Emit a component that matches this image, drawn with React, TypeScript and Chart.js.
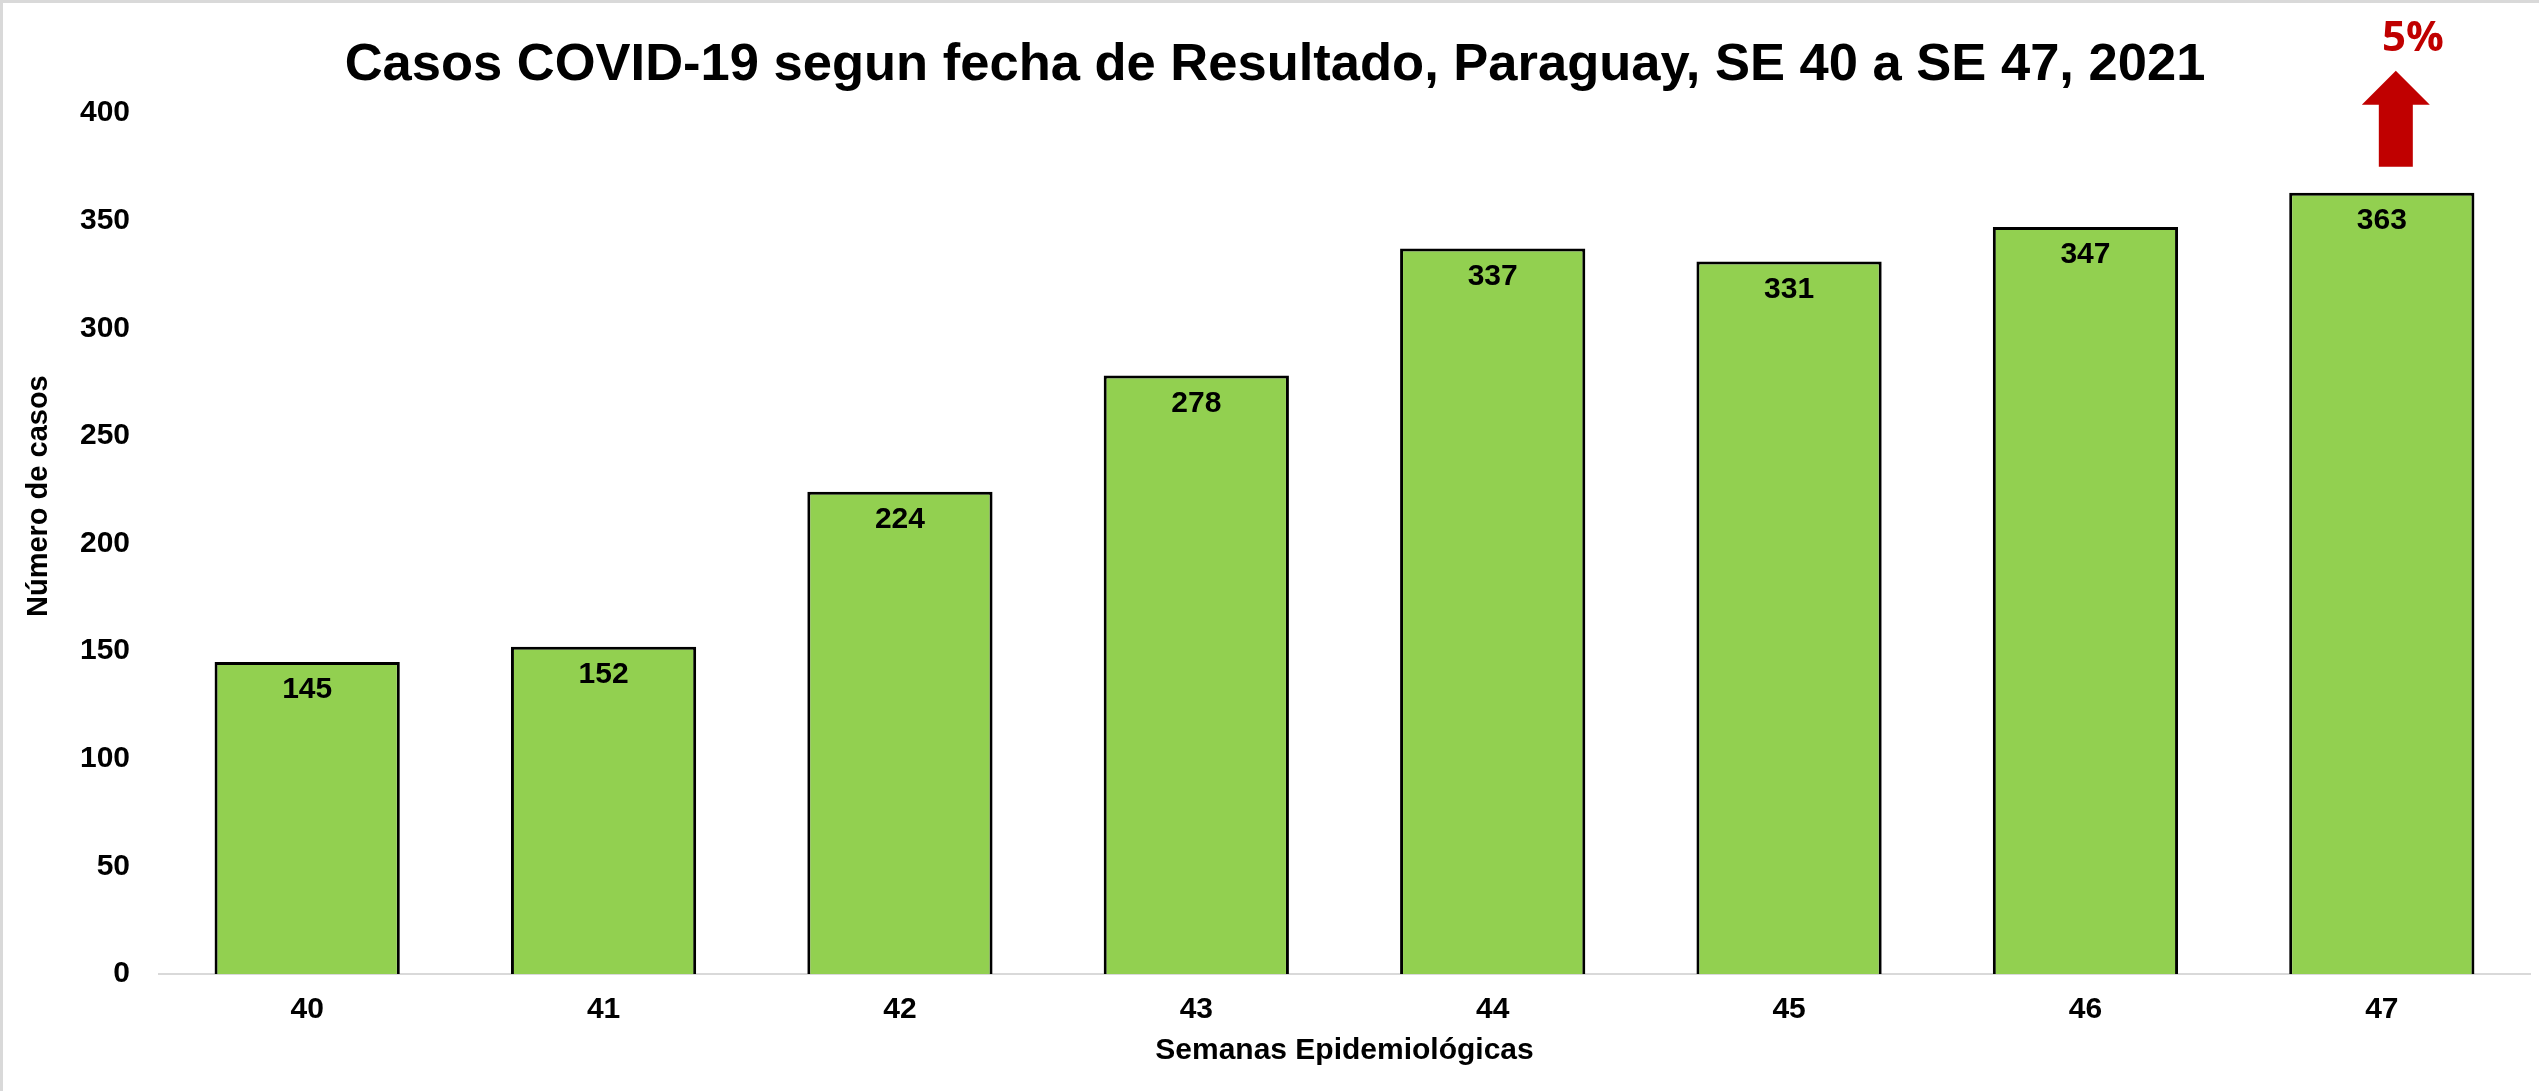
import React, { useEffect, useRef } from "react";
import { Chart, registerables } from "chart.js";

Chart.register(...registerables);

const CATEGORIES = ["40", "41", "42", "43", "44", "45", "46", "47"];
const CASES = [145, 152, 224, 278, 337, 331, 347, 363];
const Y_MIN = 0;
const Y_MAX = 400;
const Y_STEP = 50;
const TITLE = "Casos COVID-19 segun fecha de Resultado, Paraguay, SE 40 a SE 47, 2021";
const X_TITLE = "Semanas Epidemiológicas";
const Y_TITLE = "Número de casos";
const CHANGE_LABEL = "5%";

const W = 2539;
const H = 1091;
const FONT = "'Liberation Sans', Arial, sans-serif";
const BAR_GREEN = "#92D050";
const ARROW_RED = "#C00000";

const framePlugin = {
  id: "frame",
  beforeDraw(chart: any) {
    const ctx = chart.ctx;
    ctx.save();
    ctx.fillStyle = "#ffffff";
    ctx.fillRect(0, 0, chart.width, chart.height);
    ctx.fillStyle = "#d9d9d9";
    ctx.fillRect(0, 0, chart.width, 3);
    ctx.fillRect(0, 0, 3, chart.height);
    ctx.restore();
  },
};

const yTitlePlugin = {
  id: "yTitle",
  afterDraw(chart: any) {
    const ctx = chart.ctx;
    const area = chart.chartArea;
    ctx.save();
    ctx.translate(39, area.top + (area.bottom - area.top) * 0.445);
    ctx.rotate(-Math.PI / 2);
    ctx.font = `bold 29px ${FONT}`;
    ctx.fillStyle = "#000000";
    ctx.textAlign = "center";
    ctx.textBaseline = "middle";
    ctx.fillText(Y_TITLE, 0, 0);
    ctx.restore();
  },
};

const valueLabelPlugin = {
  id: "valueLabels",
  afterDatasetsDraw(chart: any) {
    const ctx = chart.ctx;
    const meta = chart.getDatasetMeta(0);
    ctx.save();
    ctx.font = `bold 30px ${FONT}`;
    ctx.fillStyle = "#000000";
    ctx.textAlign = "center";
    ctx.textBaseline = "middle";
    meta.data.forEach((bar: any, i: number) => {
      ctx.fillText(String(CASES[i]), bar.x, bar.y + 28);
    });
    ctx.restore();
  },
};

const arrowPlugin = {
  id: "changeArrow",
  afterDraw(chart: any) {
    const ctx = chart.ctx;
    const meta = chart.getDatasetMeta(0);
    const bar = meta.data[meta.data.length - 1];
    if (!bar) return;
    const bx = bar.x;
    const by = bar.y;
    const cx = bx + 14;
    ctx.save();
    ctx.fillStyle = ARROW_RED;
    ctx.beginPath();
    ctx.moveTo(cx, by - 122);
    ctx.lineTo(cx + 34, by - 88);
    ctx.lineTo(cx + 17, by - 88);
    ctx.lineTo(cx + 17, by - 26);
    ctx.lineTo(cx - 17, by - 26);
    ctx.lineTo(cx - 17, by - 88);
    ctx.lineTo(cx - 34, by - 88);
    ctx.closePath();
    ctx.fill();
    ctx.font = `bold 42px 'Open Sans', 'Noto Sans', sans-serif`;
    ctx.textAlign = "center";
    ctx.textBaseline = "middle";
    ctx.fillText(CHANGE_LABEL, bx + 31, by - 154);
    ctx.restore();
  },
};

export default function App() {
  const canvasRef = useRef<HTMLCanvasElement | null>(null);

  useEffect(() => {
    if (!canvasRef.current) return;
    const chart = new Chart(canvasRef.current, {
      type: "bar",
      data: {
        labels: CATEGORIES,
        datasets: [
          {
            data: CASES,
            backgroundColor: BAR_GREEN,
            borderColor: "#000000",
            borderWidth: 3,
            categoryPercentage: 1,
            barPercentage: 0.625,
          },
        ],
      },
      options: {
        responsive: false,
        animation: false,
        devicePixelRatio: 1,
        layout: { padding: { left: 20, right: 9, top: 0, bottom: 0 } },
        plugins: {
          legend: { display: false },
          tooltip: { enabled: false },
          title: {
            display: true,
            text: TITLE,
            color: "#000000",
            font: { family: FONT, size: 52.5, weight: "bold" },
            padding: { top: 34, bottom: 16 },
          },
        },
        scales: {
          x: {
            grid: { display: false, drawTicks: false },
            border: { display: true, color: "#d9d9d9", width: 2 },
            ticks: {
              color: "#000000",
              padding: 18,
              font: { family: FONT, size: 30, weight: "bold" },
            },
            title: {
              display: true,
              text: X_TITLE,
              color: "#000000",
              font: { family: FONT, size: 30, weight: "bold" },
              padding: { top: 0, bottom: 22 },
            },
            afterFit(scale: any) {
              scale.height = 117;
            },
          },
          y: {
            min: Y_MIN,
            max: Y_MAX,
            grid: { display: false, drawTicks: false },
            border: { display: false },
            ticks: {
              stepSize: Y_STEP,
              color: "#000000",
              padding: 29,
              font: { family: FONT, size: 30, weight: "bold" },
            },
            afterFit(scale: any) {
              scale.width = 139;
            },
          },
        },
      },
      plugins: [framePlugin, valueLabelPlugin, arrowPlugin, yTitlePlugin],
    } as any);
    return () => chart.destroy();
  }, []);

  return (
    <div style={{ position: "absolute", left: 0, top: 0, width: W, height: H, background: "#fff" }}>
      <canvas ref={canvasRef} width={W} height={H} style={{ display: "block", width: W, height: H }} />
    </div>
  );
}
